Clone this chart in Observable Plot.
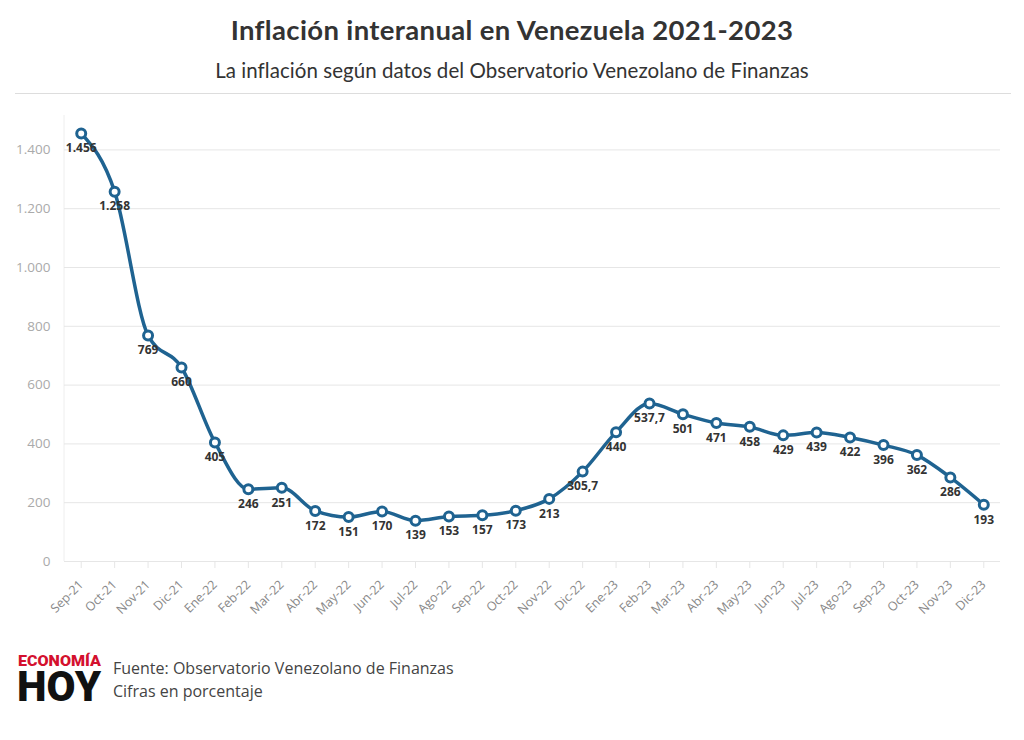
<!DOCTYPE html>
<html>
<head>
<meta charset="utf-8">
<script src="https://cdn.jsdelivr.net/npm/d3@7"></script>
<script src="https://cdn.jsdelivr.net/npm/@observablehq/plot@0.6"></script>
<style>
  html, body { margin: 0; padding: 0; background: #fff; }
  body { width: 1024px; height: 740px; position: relative; overflow: hidden; font-family: "Lato", "Open Sans", sans-serif; }
  #title { position: absolute; left: 0; width: 1024px; top: 13px; text-align: center; font-size: 27.5px; font-weight: 700; color: #333; letter-spacing: 0.35px; }
  #subtitle { position: absolute; left: 0; width: 1024px; top: 58px; text-align: center; font-size: 20.5px; color: #333; letter-spacing: 0.05px; }
  #rule { position: absolute; left: 15px; width: 996px; top: 93px; height: 0; border-top: 1px solid #ddd; }
  #chart { position: absolute; left: 0; top: 100px; }
  #logo { position: absolute; left: 16px; top: 644px; overflow: visible; }
  #source { position: absolute; left: 113px; top: 657px; font-size: 16px; line-height: 23px; color: #444; font-family: "Open Sans", sans-serif; }
</style>
</head>
<body>
<div id="title">Inflación interanual en Venezuela 2021-2023</div>
<div id="subtitle">La inflación según datos del Observatorio Venezolano de Finanzas</div>
<div id="rule"></div>
<div id="chart"></div>
<svg id="logo" width="96" height="80" xmlns="http://www.w3.org/2000/svg">
  <text x="2" y="22" font-family="Roboto, sans-serif" font-weight="900" font-size="15" fill="#d4102e" textLength="83" lengthAdjust="spacingAndGlyphs">ECONOMÍA</text>
  <text x="1" y="57" font-family="Roboto, sans-serif" font-weight="900" font-size="42" fill="#111" textLength="84" lengthAdjust="spacingAndGlyphs">HOY</text>
</svg>
<div id="source">Fuente: Observatorio Venezolano de Finanzas<br>Cifras en porcentaje</div>
<script>
const months = ["Sep-21","Oct-21","Nov-21","Dic-21","Ene-22","Feb-22","Mar-22","Abr-22","May-22","Jun-22","Jul-22","Ago-22","Sep-22","Oct-22","Nov-22","Dic-22","Ene-23","Feb-23","Mar-23","Abr-23","May-23","Jun-23","Jul-23","Ago-23","Sep-23","Oct-23","Nov-23","Dic-23"];
const inflation = [1456,1258,769,660,405,246,251,172,151,170,139,153,157,173,213,305.7,440,537.7,501,471,458,429,439,422,396,362,286,193];
const yTicks = [0,200,400,600,800,1000,1200,1400];

const locale = d3.formatLocale({decimal: ",", thousands: ".", grouping: [3], currency: ["", ""]});
const fInt = locale.format(",d");
const fDec = locale.format(",.1f");
const fmt = v => Number.isInteger(v) ? fInt(v) : fDec(v);

const data = months.map((m, i) => ({month: m, value: inflation[i]}));
const color = "#1f6391";

const chart = Plot.plot({
  width: 1024,
  height: 521,
  marginLeft: 64,
  marginRight: 24,
  marginTop: 20,
  marginBottom: 60,
  style: {fontFamily: "'Open Sans', sans-serif", background: "transparent"},
  x: {type: "point", domain: months, padding: 0.5, round: false, label: null},
  y: {domain: [0, 1500], label: null},
  marks: [
    Plot.gridY(yTicks, {stroke: "#e6e6e6", strokeOpacity: 1}),
    Plot.ruleY([0], {stroke: "#e6e6e6"}),
    Plot.axisY(yTicks, {tickSize: 0, tickPadding: 14, tickFormat: fInt, fill: "#aaa", fontSize: 13.5, label: null}),
    Plot.axisX({tickRotate: -45, tickSize: 7, stroke: "#e6e6e6", fill: "#888", fontSize: 12.5, tickPadding: 14, label: null}),
    Plot.line(data, {x: "month", y: "value", stroke: color, strokeWidth: 3.5, curve: "monotone-x"}),
    Plot.dot(data, {x: "month", y: "value", r: 4.5, fill: "white", stroke: color, strokeWidth: 3}),
    Plot.text(data, {x: "month", y: "value", text: d => fmt(d.value), dy: 15, fill: "#333", fontWeight: 700, fontSize: 12})
  ]
});
const svg = d3.select(chart);
svg.insert("line", ":first-child").attr("x1", 64).attr("x2", 64).attr("y1", 15).attr("y2", 461).attr("stroke", "#eeeeee");
document.getElementById("chart").appendChild(chart);
</script>
</body>
</html>
